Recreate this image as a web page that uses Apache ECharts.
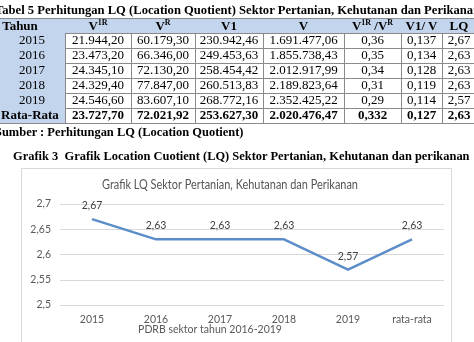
<!DOCTYPE html>
<html>
<head>
<meta charset="utf-8">
<script src="https://cdn.jsdelivr.net/npm/echarts@6/dist/echarts.min.js"></script>
<style>
  html, body { margin: 0; padding: 0; background: #fff; }
  body { width: 474px; height: 342px; position: relative; overflow: hidden; }
  .serif { font-family: "Liberation Serif", "Times New Roman", serif; color: #000; }
  .txt { position: absolute; white-space: nowrap; font-weight: bold; font-size: 13px; line-height: 15px; }
  .cell { position: absolute; box-sizing: border-box; border-right: 1px solid #8a8a8a; border-bottom: 1px solid #8a8a8a;
          font-size: 13px; line-height: 14px; text-align: center; white-space: nowrap; }
  .blue { background: #c3d5ec; }
  .bold { font-weight: bold; }
  sup { font-size: 8px; line-height: 0; vertical-align: 5px; }
  #box { position: absolute; left: 21px; top: 168px; width: 431px; height: 200px; box-sizing: border-box; border: 1px solid #d9d9d9; }
  #chart { position: absolute; left: 0; top: 0; width: 474px; height: 342px; }
</style>
</head>
<body>
<div id="box"></div>
<div id="chart"></div>
<script>
// Table: LQ calculation, agriculture / forestry / fisheries sector
const years = ['2015', '2016', '2017', '2018', '2019'];
const v1r = [21944.20, 23473.20, 24345.10, 24329.40, 24546.60];
const vr = [60179.30, 66346.00, 72130.20, 77847.00, 83607.10];
const v1 = [230942.46, 249453.63, 258454.42, 260513.83, 268772.16];
const v = [1691477.06, 1855738.43, 2012917.99, 2189823.64, 2352425.22];
const ratioR = [0.36, 0.35, 0.34, 0.31, 0.29];
const ratio1 = [0.137, 0.134, 0.128, 0.119, 0.114];
const lq = [2.67, 2.63, 2.63, 2.63, 2.57];
// "Rata-Rata" row
const averages = { v1r: 23727.70, vr: 72021.92, v1: 253627.30, v: 2020476.47, ratioR: 0.332, ratio1: 0.127, lq: 2.63 };

// Chart categories and series
const chartCategories = ['2015', '2016', '2017', '2018', '2019', 'rata-rata'];
const lqSeries = lq.concat([averages.lq]);
const yTicks = ['2,5', '2,55', '2,6', '2,65', '2,7'];

// Indonesian number format: '.' thousands, ',' decimals
function fmt(n, d) {
  const parts = n.toFixed(d).split('.');
  parts[0] = parts[0].replace(/\B(?=(\d{3})+(?!\d))/g, '.');
  return parts.join(',');
}

const measureCtx = document.createElement('canvas').getContext('2d');
// Font size that makes `text` (bold serif) span `width` pixels
function fitSize(text, width) {
  measureCtx.font = 'bold 13px "Liberation Serif"';
  return 13 * width / measureCtx.measureText(text).width;
}

const body = document.body;
function addText(html, left, top, size) {
  const el = document.createElement('div');
  el.className = 'serif txt';
  el.style.left = left + 'px';
  el.style.top = top + 'px';
  el.style.fontSize = size + 'px';
  el.innerHTML = html;
  body.appendChild(el);
  return el;
}

const tableTitle = 'Tabel 5 Perhitungan LQ (Location Quotient) Sektor Pertanian, Kehutanan dan Perikanan';
addText(tableTitle, -5, 3, fitSize(tableTitle.slice(0, -1), 479));

const colX = [-25, 65, 131, 195, 263, 344, 401, 442, 476];
const rowY = [18, 33, 48, 63, 78, 93, 108, 123];
const headers = ['Tahun', 'V<sup>1R</sup>', 'V<sup>R</sup>', 'V1', 'V', 'V<sup>1R</sup> /V<sup>R</sup>', 'V1/ V', 'LQ'];
const cols = [
  { data: v1r, avg: averages.v1r, d: 2, ad: 2 },
  { data: vr, avg: averages.vr, d: 2, ad: 2 },
  { data: v1, avg: averages.v1, d: 2, ad: 2 },
  { data: v, avg: averages.v, d: 2, ad: 2 },
  { data: ratioR, avg: averages.ratioR, d: 2, ad: 3 },
  { data: ratio1, avg: averages.ratio1, d: 3, ad: 3 },
  { data: lq, avg: averages.lq, d: 2, ad: 2 }
];

function addCell(html, c, r, cls, shift) {
  const el = document.createElement('div');
  el.className = 'serif cell ' + (cls || '');
  el.style.left = colX[c] + 'px';
  el.style.top = rowY[r] + 'px';
  el.style.width = (colX[c + 1] - colX[c] + 1) + 'px';
  el.style.height = (rowY[r + 1] - rowY[r] + 1) + 'px';
  if (r === 0) el.style.borderTop = '1px solid #8a8a8a';
  el.innerHTML = shift ? '<span style="position:relative;left:' + shift + 'px">' + html + '</span>' : html;
  body.appendChild(el);
}

headers.forEach((h, c) => addCell(h, c, 0, 'blue bold'));
years.forEach((y, i) => {
  addCell(y, 0, i + 1, 'blue', 12);
  cols.forEach((col, c) => addCell(fmt(col.data[i], col.d), c + 1, i + 1, ''));
});
addCell('Rata-Rata', 0, 6, 'blue bold', 10);
cols.forEach((col, c) => addCell(fmt(col.avg, col.ad), c + 1, 6, 'bold'));

const source = 'Sumber : Perhitungan LQ (Location Quotient)';
addText(source, -5, 125, fitSize(source, 249));
const caption = 'Grafik 3\u00a0 Grafik Location Cuotient (LQ) Sektor Pertanian, Kehutanan dan perikanan';
addText(caption, 13, 149, fitSize(caption, 457));

// Line chart of LQ values
const chart = echarts.init(document.getElementById('chart'), null, { renderer: 'canvas' });
const labelFont = 'Lato, "Open Sans", sans-serif';
chart.setOption({
  backgroundColor: 'transparent',
  animation: false,
  grid: { left: 60, top: 204, width: 384, height: 101, containLabel: false, outerBoundsMode: 'none' },
  xAxis: {
    type: 'category',
    data: chartCategories,
    boundaryGap: true,
    axisLine: { show: false },
    axisTick: { show: false },
    axisLabel: { color: '#595959', fontFamily: labelFont, fontSize: 10.5, margin: 9 }
  },
  yAxis: {
    type: 'value',
    min: 2.5,
    max: 2.7,
    interval: 0.05,
    axisLine: { show: false },
    axisTick: { show: false },
    splitLine: { lineStyle: { color: '#d9d9d9', width: 1 } },
    axisLabel: {
      color: '#595959', fontFamily: labelFont, fontSize: 10.5, margin: 9,
      formatter: (val) => yTicks[Math.round((val - 2.5) / 0.05)]
    }
  },
  series: [{
    type: 'line',
    data: lqSeries,
    symbol: 'circle',
    symbolSize: 0,
    showSymbol: true,
    lineStyle: { color: '#5b8dc9', width: 2.5 },
    itemStyle: { color: '#5b8dc9' },
    label: {
      show: true,
      position: 'top',
      distance: 8,
      color: '#404040',
      fontFamily: labelFont,
      fontSize: 10.5,
      formatter: (p) => fmt(p.value, 2)
    }
  }],
  graphic: [
    {
      type: 'text',
      x: 230, y: 185,
      scaleX: 0.81,
      style: {
        text: 'Grafik LQ Sektor Pertanian, Kehutanan dan Perikanan',
        fill: '#555555', font: '13.5px ' + labelFont, textAlign: 'center', textVerticalAlign: 'middle'
      }
    },
    {
      type: 'text',
      x: 210, y: 330,
      style: {
        text: 'PDRB sektor tahun 2016-2019',
        fill: '#595959', font: '10.5px ' + labelFont, textAlign: 'center', textVerticalAlign: 'middle'
      }
    }
  ]
});
</script>
</body>
</html>
